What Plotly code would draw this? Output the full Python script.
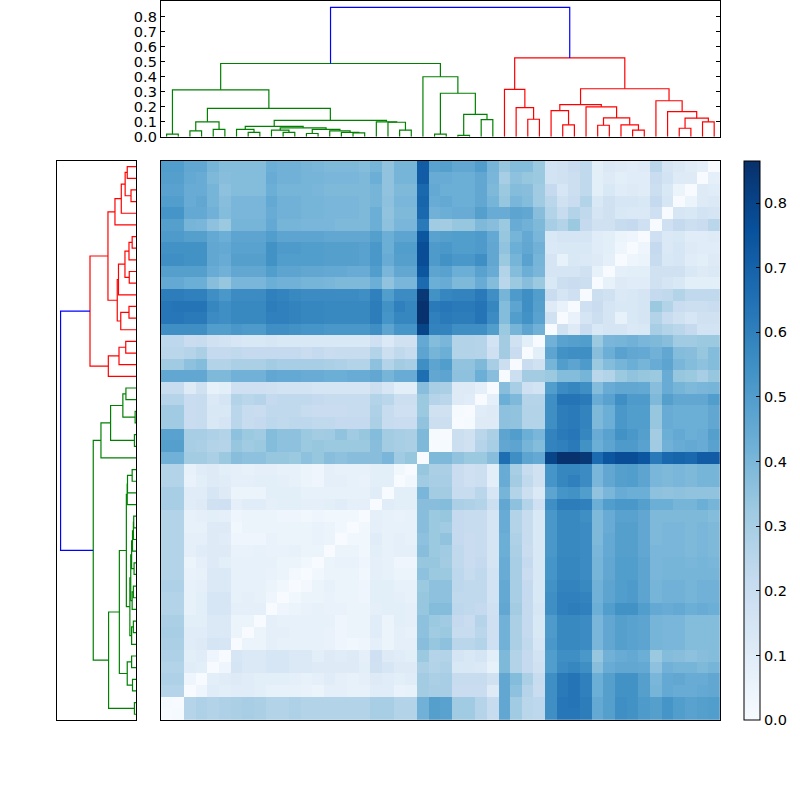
import numpy as np
import plotly.graph_objects as go

# distances x100, lower triangle, row 0 is the bottom row of the heatmap
dist_rows = [
    [0],
    [1, 0],
    [26, 26, 0],
    [28, 28, 4, 0],
    [27, 27, 10, 9, 0],
    [28, 28, 9, 10, 4, 0],
    [29, 29, 10, 11, 15, 14, 0],
    [30, 30, 10, 10, 12, 12, 5, 0],
    [29, 29, 9, 9, 12, 12, 5, 5, 0],
    [27, 27, 7, 9, 14, 14, 8, 8, 8, 0],
    [27, 27, 7, 9, 14, 14, 7, 8, 7, 4, 0],
    [28, 28, 7, 8, 12, 12, 7, 7, 7, 5, 3, 0],
    [27, 27, 6, 7, 12, 12, 7, 7, 7, 6, 5, 2, 0],
    [27, 27, 5, 8, 11, 9, 7, 7, 7, 7, 5, 5, 3, 0],
    [27, 27, 8, 10, 11, 11, 6, 6, 7, 6, 6, 7, 5, 5, 0],
    [27, 27, 8, 8, 11, 10, 4, 4, 4, 6, 5, 5, 5, 6, 5, 0],
    [27, 27, 7, 7, 11, 11, 3, 5, 5, 5, 5, 5, 5, 6, 5, 3, 0],
    [27, 27, 7, 8, 9, 8, 4, 5, 5, 5, 4, 4, 3, 4, 3, 3, 3, 0],
    [30, 30, 10, 11, 17, 18, 8, 10, 10, 8, 9, 9, 8, 8, 9, 10, 8, 8, 0],
    [30, 30, 10, 10, 14, 11, 5, 5, 5, 9, 9, 9, 7, 7, 7, 7, 7, 7, 10, 0],
    [27, 27, 6, 9, 11, 10, 8, 8, 9, 9, 8, 7, 5, 4, 8, 8, 7, 6, 9, 9, 0],
    [27, 27, 7, 10, 11, 9, 8, 7, 8, 8, 7, 7, 5, 4, 8, 7, 7, 7, 9, 9, 3, 0],
    [42, 42, 31, 31, 29, 33, 37, 36, 36, 34, 34, 33, 36, 34, 37, 36, 37, 37, 37, 40, 32, 34, 0],
    [49, 49, 30, 29, 27, 26, 34, 32, 33, 38, 36, 36, 33, 34, 33, 33, 33, 33, 37, 31, 30, 29, 39, 0],
    [48, 48, 30, 30, 28, 27, 36, 33, 32, 38, 36, 36, 33, 31, 32, 35, 32, 34, 38, 31, 30, 29, 39, 1, 0],
    [32, 32, 20, 21, 13, 15, 25, 21, 22, 24, 23, 24, 24, 23, 23, 22, 22, 22, 29, 21, 20, 20, 35, 19, 19, 0],
    [32, 32, 20, 21, 13, 13, 25, 21, 20, 23, 23, 23, 21, 20, 20, 20, 21, 21, 28, 21, 18, 18, 33, 17, 17, 1, 0],
    [26, 26, 20, 21, 12, 15, 27, 25, 26, 22, 23, 23, 23, 22, 21, 21, 21, 21, 27, 25, 19, 19, 33, 26, 25, 11, 10, 0],
    [21, 21, 11, 17, 7, 9, 18, 18, 18, 17, 16, 16, 16, 15, 15, 15, 15, 15, 19, 14, 9, 9, 37, 30, 29, 11, 11, 8, 0],
    [46, 46, 46, 46, 39, 39, 42, 42, 42, 46, 45, 45, 44, 44, 43, 43, 44, 44, 46, 41, 44, 44, 66, 46, 47, 36, 36, 43, 37, 0],
    [32, 32, 36, 38, 27, 27, 29, 29, 29, 31, 30, 30, 30, 30, 29, 28, 27, 27, 36, 27, 31, 30, 55, 47, 50, 35, 35, 39, 30, 19, 0],
    [25, 25, 26, 29, 22, 22, 23, 22, 22, 22, 22, 22, 20, 22, 20, 21, 21, 21, 27, 19, 23, 21, 47, 41, 43, 27, 27, 26, 18, 31, 20, 0],
    [24, 24, 20, 21, 17, 16, 14, 13, 13, 14, 13, 13, 13, 13, 13, 13, 13, 13, 18, 12, 17, 17, 45, 38, 40, 27, 27, 26, 16, 31, 17, 9, 0],
    [55, 55, 55, 55, 50, 50, 52, 51, 51, 55, 55, 54, 53, 53, 52, 52, 52, 52, 55, 47, 53, 53, 80, 59,
     59, 55, 55, 55, 50, 33, 41, 47, 42, 0],
    [63, 63, 62, 62, 56, 55, 57, 57, 57, 60, 60, 59, 58, 58, 57, 57, 57, 57, 61, 53, 58, 58, 86, 60,
     62, 61, 61, 64, 56, 38, 50, 54, 48, 17, 0],
    [63, 64, 64, 64, 58, 55, 57, 57, 57, 61, 60, 59, 58, 58, 57, 57, 57, 57, 61, 54, 60, 58, 86, 62,
     63, 62, 62, 64, 58, 38, 47, 55, 49, 11, 6, 0],
    [61, 61, 60, 60, 55, 52, 56, 56, 56, 60, 59, 57, 56, 56, 56, 56, 56, 55, 60, 50, 56, 56, 84, 54,
     58, 59, 59, 62, 55, 41, 51, 55, 50, 20, 15, 18, 0],
    [45, 45, 43, 43, 37, 34, 40, 40, 40, 43, 42, 42, 41, 41, 40, 39, 39, 39, 43, 35, 40, 40, 67, 43,
     44, 39, 39, 44, 38, 25, 33, 37, 33, 13, 19, 20, 19, 0],
    [49, 49, 49, 49, 44, 42, 46, 46, 46, 50, 47, 47, 46, 46, 45, 45, 44, 44, 50, 40, 46, 46, 74, 47,
     48, 43, 43, 48, 44, 27, 38, 43, 40, 15, 15, 15, 17, 7, 0],
    [55, 55, 54, 54, 46, 44, 49, 49, 49, 54, 50, 50, 50, 50, 49, 49, 49, 48, 52, 44, 49, 49, 77, 51,
     54, 52, 52, 55, 46, 33, 41, 48, 41, 15, 7, 13, 12, 11, 8, 0],
    [54, 54, 54, 54, 46, 45, 48, 48, 48, 54, 51, 51, 50, 50, 49, 49, 49, 48, 52, 43, 50, 50, 77, 51,
     52, 50, 50, 51, 46, 35, 43, 46, 42, 12, 13, 13, 13, 10, 9, 4, 0],
    [51, 51, 49, 49, 45, 43, 47, 47, 47, 50, 47, 47, 47, 47, 46, 46, 46, 46, 49, 43, 47, 47, 74, 48,
     49, 50, 50, 51, 45, 34, 41, 45, 40, 13, 15, 15, 15, 10, 9, 5, 4, 0],
    [49, 49, 41, 40, 36, 33, 41, 41, 41, 45, 41, 41, 40, 40, 40, 39, 39, 39, 43, 36, 40, 40, 62, 32,
     31, 34, 34, 39, 37, 33, 44, 42, 39, 30, 27, 33, 22, 17, 17, 21, 22, 18, 0],
    [53, 53, 45, 45, 42, 38, 40, 40, 40, 44, 42, 42, 41, 41, 40, 40, 40, 39, 43, 35, 39, 39, 68, 42,
     43, 44, 44, 49, 44, 44, 47, 46, 37, 27, 21, 27, 23, 15, 17, 13, 12, 12, 18, 0],
    [50, 50, 44, 46, 41, 37, 40, 40, 40, 45, 42, 42, 41, 41, 40, 40, 40, 39, 41, 36, 40, 40, 69, 44,
     45, 43, 43, 46, 41, 34, 40, 38, 32, 25, 17, 20, 27, 13, 17, 14, 14, 13, 22, 14, 0],
    [48, 48, 44, 44, 41, 36, 38, 38, 38, 43, 41, 41, 41, 40, 39, 39, 39, 39, 41, 35, 39, 39, 68, 45,
     43, 43, 43, 46, 39, 33, 38, 37, 32, 22, 14, 19, 23, 9, 13, 10, 11, 10, 19, 13, 5, 0],
    [49, 49, 45, 44, 39, 37, 38, 38, 38, 44, 42, 42, 41, 41, 40, 40, 40, 39, 43, 35, 41, 41, 72, 44,
     44, 43, 43, 46, 40, 30, 36, 34, 33, 16, 17, 19, 23, 9, 11, 9, 10, 10, 20, 16, 11, 11, 0],
    [50, 50, 46, 46, 41, 38, 38, 38, 38, 43, 42, 42, 41, 40, 39, 39, 39, 38, 41, 35, 41, 41, 72, 48,
     49, 46, 46, 50, 41, 34, 38, 38, 33, 16, 17, 20, 23, 9, 12, 11, 10, 11, 25, 15, 12, 10, 8, 0],
]

# tree merges: ids 0-47 are leaves, every merge gets the next id from 48 on
merge_left = [0, 2, 4, 49, 7, 6, 10, 9, 12, 16, 15, 14, 56, 55, 53, 20, 19, 18, 62, 51, 48,
              23, 25, 27, 70, 69, 22, 68,
              31, 30, 29, 34, 33, 37, 40, 39, 81, 36, 80, 44, 46, 87, 43, 42, 86, 78,
              75]
merge_right = [1, 3, 5, 50, 8, 52, 11, 54, 13, 17, 57, 58, 59, 60, 61, 21, 63, 64, 65, 66, 67,
               24, 26, 28, 71, 72, 73, 74,
               32, 76, 77, 35, 79, 38, 41, 82, 83, 84, 85, 45, 47, 88, 89, 90, 91, 92,
               93]
merge_height = [.018, .04, .05, .10, .03, .05, .03, .044, .022, .026, .03, .04, .05, .06, .07, .044, .097, .10, .11, .19, .313,
                .018, .01, .115, .15, .29, .40, .488,
                .117, .194, .316, .08, .174, .077, .044, .08, .126, .20, .214, .057, .10, .124, .168, .24, .32, .525,
                .861]
merge_colour = ["#008000"] * 28 + ["#ff0000"] * 18 + ["#0000ff"]

cbar_ticks = [0.0, 0.1, 0.2, 0.3, 0.4, 0.5, 0.6, 0.7, 0.8]
blues = ["#f7fbff", "#deebf7", "#c6dbef", "#9ecae1", "#6baed6", "#4292c6", "#2171b5", "#08519c", "#08306b"]

FONT = dict(family="DejaVu Sans", size=14.5, color="black")
n_leaves = len(dist_rows)
leaf_pos = [5 + 10 * i for i in range(n_leaves)]

D = np.zeros((n_leaves, n_leaves))
for i, row in enumerate(dist_rows):
    D[i, :i + 1] = np.array(row) / 100
    D[:i + 1, i] = np.array(row) / 100


def tree_segments():
    """One U shape per merge, as (colour, positions, heights)."""
    pos = list(leaf_pos)
    height = [0.0] * n_leaves
    shapes = []
    for a, b, h, c in zip(merge_left, merge_right, merge_height, merge_colour):
        shapes.append((c, [pos[a], pos[a], pos[b], pos[b]], [height[a], h, h, height[b]]))
        pos.append((pos[a] + pos[b]) / 2)
        height.append(h)
    return shapes


fig = go.Figure()

for c, p, h in tree_segments():
    fig.add_trace(go.Scatter(x=p, y=h, mode="lines", line=dict(color=c, width=1.2),
                             xaxis="x2", yaxis="y2", hoverinfo="skip", showlegend=False))
    fig.add_trace(go.Scatter(x=h, y=p, mode="lines", line=dict(color=c, width=1.2),
                             xaxis="x3", yaxis="y3", hoverinfo="skip", showlegend=False))

fig.add_trace(go.Heatmap(
    x=leaf_pos, y=leaf_pos, z=D, zmin=0, zmax=0.865, colorscale=blues,
    colorbar=dict(x=744 / 800, xanchor="left", xpad=0, y=0.1, yanchor="bottom", ypad=0,
                  len=0.7, lenmode="fraction", thickness=16,
                  outlinecolor="black", outlinewidth=1,
                  tickvals=cbar_ticks, ticktext=[f"{v:.1f}" for v in cbar_ticks],
                  ticks="inside", ticklen=4, tickcolor="black", tickfont=FONT),
))

frame = dict(showline=True, linecolor="black", linewidth=1, mirror=True,
             showgrid=False, zeroline=False)
blank = dict(frame, showticklabels=False, ticks="")

fig.update_layout(
    width=800, height=808,
    margin=dict(l=0, r=0, t=0, b=0),
    paper_bgcolor="white", plot_bgcolor="white",
    font=FONT, showlegend=False,
    xaxis=dict(blank, domain=[160.8 / 800, 0.9], range=[0, 480]),
    yaxis=dict(blank, domain=[0.1, 0.8], range=[0, 480]),
    xaxis2=dict(blank, domain=[160.8 / 800, 0.9], range=[0, 480], anchor="y2"),
    yaxis2=dict(frame, domain=[0.83, 1.0], range=[0, 0.904], anchor="x2", mirror="ticks",
                tickvals=cbar_ticks, ticktext=[f"{v:.1f}" for v in cbar_ticks],
                ticks="inside", ticklen=4, tickcolor="black", tickfont=FONT),
    xaxis3=dict(blank, domain=[56.8 / 800, 0.17], range=[0.904, 0], anchor="y3"),
    yaxis3=dict(blank, domain=[0.1, 0.8], range=[0, 480], anchor="x3"),
)

# the page body has a default margin that would push the figure off its place
fig.write_html("out.html", config=dict(displayModeBar=False),
               post_script="document.body.style.margin = '0';")
